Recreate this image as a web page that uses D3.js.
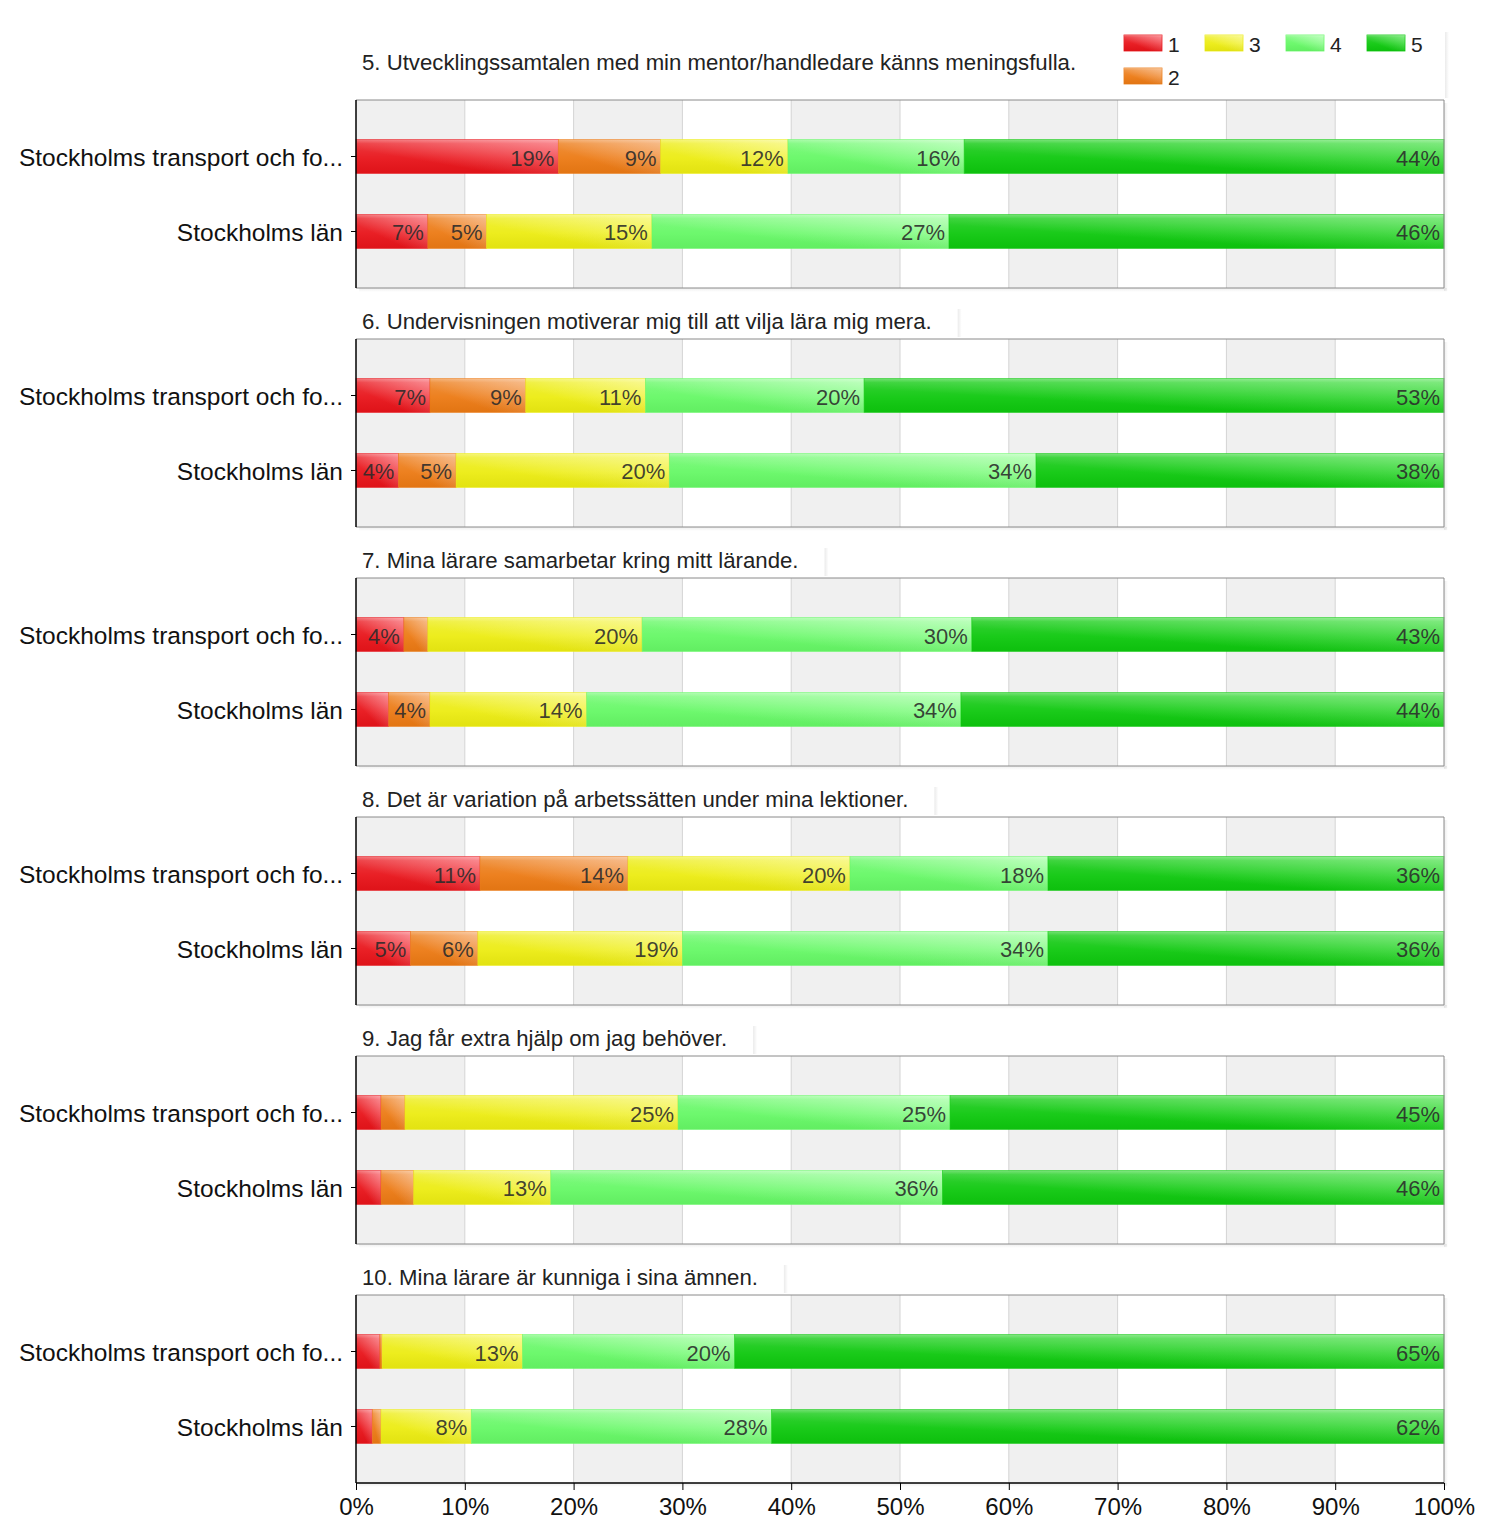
<!DOCTYPE html>
<html><head><meta charset="utf-8">
<script src="https://cdn.jsdelivr.net/npm/d3@7/dist/d3.min.js"></script>
<style>
body{margin:0;background:#fff;}
svg{display:block;font-family:"Liberation Sans",Arial,Helvetica,sans-serif;}
</style></head>
<body>
<svg id="chart" width="1500" height="1537"></svg>
<script>
// ---- data ----
const questions = [
  "5. Utvecklingssamtalen med min mentor/handledare känns meningsfulla.",
  "6. Undervisningen motiverar mig till att vilja lära mig mera.",
  "7. Mina lärare samarbetar kring mitt lärande.",
  "8. Det är variation på arbetssätten under mina lektioner.",
  "9. Jag får extra hjälp om jag behöver.",
  "10. Mina lärare är kunniga i sina ämnen."
];
const categories = ["Stockholms transport och fo...", "Stockholms län"];
const seriesNames = ["1", "2", "3", "4", "5"];
// values per question: [row Stockholms transport..., row Stockholms län], each [s1,s2,s3,s4,s5] in %
const q5  = [[18.6, 9.4, 11.7, 16.2, 44.1], [6.6, 5.4, 15.2, 27.3, 45.5]];
const q6  = [[6.8, 8.8, 11.0, 20.1, 53.3], [3.9, 5.3, 19.6, 33.7, 37.5]];
const q7  = [[4.4, 2.2, 19.7, 30.3, 43.4], [3.0, 3.8, 14.4, 34.4, 44.4]];
const q8  = [[11.4, 13.6, 20.4, 18.2, 36.4], [5.0, 6.2, 18.8, 33.6, 36.4]];
const q9  = [[2.3, 2.2, 25.1, 25.0, 45.4], [2.3, 3.0, 12.6, 36.0, 46.1]];
const q10 = [[2.2, 0.2, 12.9, 19.5, 65.2], [1.5, 0.8, 8.3, 27.6, 61.8]];
const panelValues = [q5, q6, q7, q8, q9, q10];
const xTicks = [0, 10, 20, 30, 40, 50, 60, 70, 80, 90, 100];
const tickLabels = xTicks.map(d => d + "%");

// ---- styles ----
const baseColors = ["#e8141a", "#ec7a14", "#ecec12", "#66f866", "#0ec80e"];
const lightColors = ["#fa7c84", "#f6b27a", "#f8f880", "#b4ffb4", "#6ee86e"];

const svg = d3.select("#chart");
const defs = svg.append("defs");
baseColors.forEach((c, i) => {
  const g = defs.append("linearGradient").attr("id", "g" + i)
    .attr("x1", 0).attr("y1", 1).attr("x2", 1).attr("y2", 0);
  g.append("stop").attr("offset", "0%").attr("stop-color", c);
  g.append("stop").attr("offset", "35%").attr("stop-color", c);
  g.append("stop").attr("offset", "100%").attr("stop-color", lightColors[i]);
});
const gl = defs.append("linearGradient").attr("id", "gloss").attr("x1", 0).attr("y1", 0).attr("x2", 0).attr("y2", 1);
gl.append("stop").attr("offset", "0%").attr("stop-color", "#fff").attr("stop-opacity", 0.35);
gl.append("stop").attr("offset", "12%").attr("stop-color", "#fff").attr("stop-opacity", 0.15);
gl.append("stop").attr("offset", "55%").attr("stop-color", "#fff").attr("stop-opacity", 0.05);
gl.append("stop").attr("offset", "100%").attr("stop-color", "#000").attr("stop-opacity", 0.04);
const sh = defs.append("linearGradient").attr("id", "shadowR").attr("x1", 0).attr("y1", 0).attr("x2", 1).attr("y2", 0);
sh.append("stop").attr("offset", "0%").attr("stop-color", "#000").attr("stop-opacity", 0.08);
sh.append("stop").attr("offset", "100%").attr("stop-color", "#000").attr("stop-opacity", 0);
const shB = defs.append("linearGradient").attr("id", "shadowB").attr("x1", 0).attr("y1", 0).attr("x2", 0).attr("y2", 1);
shB.append("stop").attr("offset", "0%").attr("stop-color", "#000").attr("stop-opacity", 0.07);
shB.append("stop").attr("offset", "100%").attr("stop-color", "#000").attr("stop-opacity", 0);

const plotLeft = 356, plotRight = 1444, plotH = 188, firstTop = 100, panelStep = 239;
const x = d3.scaleLinear().domain([0, 100]).range([plotLeft, plotRight]);

// ---- legend ----
const legend = svg.append("g");
legend.append("rect").attr("x", 1445).attr("y", 32).attr("width", 4).attr("height", 66).attr("fill", "url(#shadowR)");
seriesNames.forEach((name, i) => {
  const row = i === 1 ? 1 : 0;
  const col = i === 0 || i === 1 ? 0 : i - 1;
  const lx = 1124 + col * 81, ly = 35 + row * 33;
  legend.append("rect").attr("x", lx).attr("y", ly).attr("width", 38).attr("height", 16)
    .attr("fill", "url(#g" + i + ")").attr("stroke", baseColors[i]).attr("stroke-width", 0.8);
  legend.append("rect").attr("x", lx).attr("y", ly).attr("width", 38).attr("height", 16).attr("fill", "url(#gloss)");
  legend.append("text").attr("x", lx + 44).attr("y", ly + 17).attr("font-size", 21).attr("fill", "#222").text(name);
});

// ---- panels ----
panelValues.forEach((vals, p) => {
  const top = firstTop + p * panelStep;
  const g = svg.append("g");
  const y = d3.scaleBand().domain(categories).range([top, top + plotH]).paddingInner(0.547).paddingOuter(0.527);

  // title
  const titleY = p === 0 ? 62 : top - 18;
  const tg = g.append("g");
  const tt = tg.append("text").attr("x", 362).attr("y", titleY + 8).attr("font-size", 22.2).attr("fill", "#222").text(questions[p]);
  if (p > 0) {
    const tw = tt.node().getComputedTextLength();
    tg.append("rect").attr("x", 362 + tw + 26).attr("y", titleY - 12).attr("width", 4).attr("height", 28).attr("fill", "url(#shadowR)");
  }

  // plot shadow
  g.append("rect").attr("x", plotRight).attr("y", top + 3).attr("width", 4).attr("height", plotH).attr("fill", "url(#shadowR)");
  g.append("rect").attr("x", plotLeft + 3).attr("y", top + plotH).attr("width", plotRight - plotLeft).attr("height", 4).attr("fill", "url(#shadowB)");

  // stripes
  for (let k = 0; k < xTicks.length - 1; k++) {
    g.append("rect").attr("x", x(xTicks[k])).attr("y", top).attr("width", x(xTicks[k + 1]) - x(xTicks[k])).attr("height", plotH)
      .attr("fill", k % 2 === 0 ? "#f0f0f0" : "#ffffff");
  }
  // grid lines
  g.selectAll("line.grid").data(xTicks.slice(1, -1)).join("line")
    .attr("x1", d => x(d)).attr("x2", d => x(d)).attr("y1", top).attr("y2", top + plotH)
    .attr("stroke", "#d4d4d4").attr("stroke-width", 1);

  // bars
  vals.forEach((row, r) => {
    let acc = 0;
    const by = y(categories[r]), bh = y.bandwidth();
    row.forEach((v, s) => {
      const x0 = x(acc), x1 = x(acc + v);
      acc += v;
      if (v <= 0) return;
      g.append("rect").attr("x", x0).attr("y", by).attr("width", x1 - x0).attr("height", bh)
        .attr("fill", "url(#g" + s + ")");
      g.append("rect").attr("x", x0).attr("y", by).attr("width", x1 - x0).attr("height", bh)
        .attr("fill", "url(#gloss)").attr("stroke", baseColors[s]).attr("stroke-opacity", 0.6).attr("stroke-width", 0.8);
      if (v >= 3.5) {
        g.append("text").attr("x", x1 - 4).attr("y", by + bh / 2 + 9).attr("text-anchor", "end")
          .attr("font-size", 22).attr("fill", "#2a2a2a").attr("fill-opacity", 0.88)
          .text(Math.round(v) + "%");
      }
    });
  });

  // border
  g.append("path").attr("d", `M${plotLeft},${top}H${plotRight}V${top + plotH}`).attr("fill", "none").attr("stroke", "#8a8a8a").attr("stroke-width", 1);
  if (p < panelValues.length - 1) {
    g.append("line").attr("x1", plotLeft).attr("x2", plotRight).attr("y1", top + plotH).attr("y2", top + plotH).attr("stroke", "#8a8a8a");
  }

  // left axis
  const ya = d3.axisLeft(y).tickSize(5).tickPadding(8);
  const yAxis = g.append("g").attr("transform", `translate(${plotLeft},0)`).call(ya);
  yAxis.select(".domain").attr("stroke", "#000").attr("stroke-width", 1.5).attr("d", `M0,${top}V${top + plotH}`);
  yAxis.selectAll(".tick line").attr("stroke", "#000");
  yAxis.selectAll(".tick text").attr("font-size", 24.5).attr("fill", "#111").attr("dy", "0.38em")
    .attr("font-family", '"Liberation Sans",Arial,sans-serif');

  // bottom axis on last panel
  if (p === panelValues.length - 1) {
    const xa = d3.axisBottom(x).tickValues(xTicks).tickFormat((d, i) => tickLabels[i]).tickSize(7).tickPadding(8);
    const xAxis = g.append("g").attr("transform", `translate(0,${top + plotH})`).call(xa);
    xAxis.select(".domain").attr("stroke", "#000").attr("stroke-width", 1.5).attr("d", `M${plotLeft},0H${plotRight}`);
    xAxis.selectAll(".tick line").attr("stroke", "#000");
    xAxis.selectAll(".tick text").attr("font-size", 24).attr("fill", "#111")
      .attr("font-family", '"Liberation Sans",Arial,sans-serif');
  }
});
</script>
</body></html>
